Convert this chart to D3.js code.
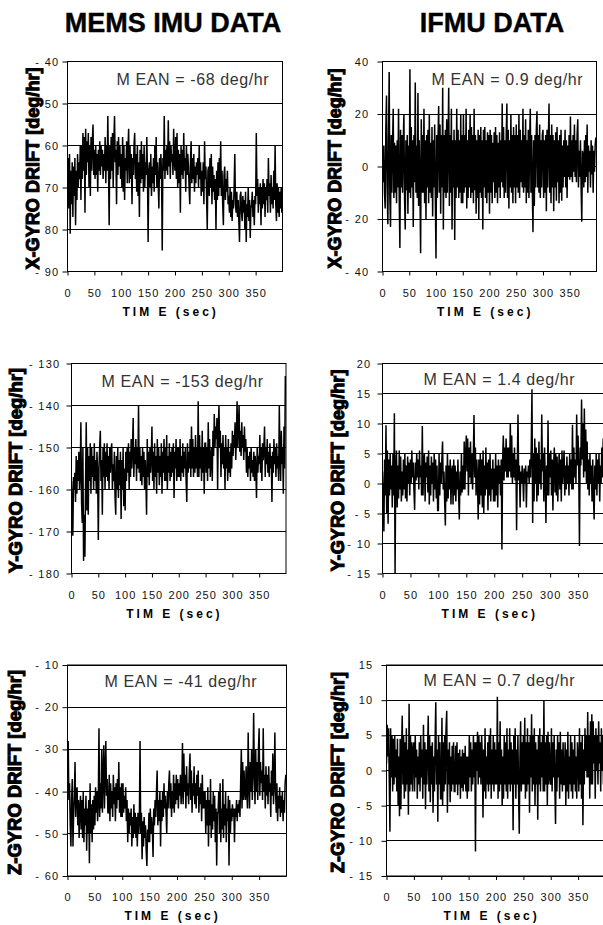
<!DOCTYPE html>
<html>
<head>
<meta charset="utf-8">
<script src="https://cdn.jsdelivr.net/npm/d3@7"></script>
<style>
body { margin: 0; background: #fff; }
svg { display: block; font-family: "Liberation Sans", Arial, sans-serif; }
</style>
</head>
<body>
<svg id="chart" width="603" height="925"></svg>
<script>
// gyro drift logs, one sample every 1.25 sec
var sampleStep = 1.25;
var timeTicks = [0, 50, 100, 150, 200, 250, 300, 350];

var columnTitles = ["MEMS IMU DATA", "IFMU DATA"];
var axisTitles = ["X-GYRO DRIFT [deg/hr]", "X-GYRO DRIFT [deg/hr]",
                  "Y-GYRO DRIFT [deg/hr]", "Y-GYRO DRIFT [deg/hr]",
                  "Z-GYRO DRIFT [deg/hr]", "Z-GYRO DRIFT [deg/hr]"];
var meanLabels = ["M EAN = -68 deg/hr", "M EAN = 0.9 deg/hr",
                  "M EAN = -153 deg/hr", "M EAN = 1.4 deg/hr",
                  "M EAN = -41 deg/hr", "M EAN = 0.7 deg/hr"];
var yDomains = [[-90, -40], [-40, 40], [-180, -130], [-15, 20], [-60, -10], [-15, 15]];
var yTickSets = [
    [-90, -80, -70, -60, -50, -40],
    [-40, -20, 0, 20, 40],
    [-180, -170, -160, -150, -140, -130],
    [-15, -10, -5, 0, 5, 10, 15, 20],
    [-60, -50, -40, -30, -20, -10],
    [-15, -10, -5, 0, 5, 10, 15]
];

var memsX = [
    -70, -63, -75, -62, -81, -66, -74, -64, -77, -65, -72, -63, -79, -66, -73, -62, -70, -64, -68, -60,
    -73, -60, -68, -57, -66, -58, -76, -56, -67, -59, -64, -57, -70, -60, -72, -58, -66, -59, -55, -67,
    -61, -68, -60, -67, -62, -71, -61, -66, -59, -67, -60, -65, -61, -68, -62, -66, -58, -69, -60, -66,
    -53, -65, -79, -60, -68, -58, -66, -57, -70, -59, -53, -64, -61, -74, -59, -67, -58, -65, -60, -68,
    -62, -70, -58, -71, -60, -73, -63, -66, -59, -69, -61, -56, -69, -60, -68, -62, -74, -63, -67, -60,
    -57, -68, -62, -71, -60, -72, -64, -77, -61, -69, -59, -68, -62, -71, -60, -70, -64, -67, -58, -66,
    -83, -66, -64, -70, -62, -72, -65, -69, -63, -71, -60, -67, -58, -70, -64, -69, -75, -63, -68, -62,
    -67, -85, -63, -66, -53, -68, -61, -66, -60, -67, -54, -65, -59, -68, -60, -64, -62, -67, -56, -64,
    -66, -58, -68, -57, -70, -61, -69, -62, -76, -60, -67, -61, -68, -57, -66, -63, -71, -60, -67, -62,
    -65, -70, -74, -64, -59, -69, -63, -68, -62, -71, -65, -69, -64, -67, -63, -70, -60, -68, -64, -72,
    -66, -71, -64, -74, -59, -68, -65, -72, -80, -66, -65, -72, -63, -70, -62, -74, -65, -71, -67, -73,
    -68, -80, -66, -73, -64, -72, -63, -70, -59, -72, -66, -74, -79, -67, -65, -73, -68, -71, -66, -74,
    -72, -76, -70, -77, -71, -78, -73, -75, -70, -62, -74, -76, -71, -77, -73, -78, -83, -72, -71, -76,
    -78, -72, -76, -73, -80, -71, -83, -74, -77, -70, -78, -73, -82, -75, -74, -71, -77, -73, -79, -72,
    -74, -57, -72, -68, -76, -70, -74, -69, -79, -70, -75, -68, -74, -69, -77, -70, -73, -68, -76, -63,
    -72, -69, -76, -67, -74, -70, -75, -66, -73, -60, -74, -78, -69, -76, -70, -77, -71, -75, -70, -76
];
var ifmuX = [
    3, -6, 8, -10, -16, 15, 27, -8, -22, 10, 36, -12, -23, 12, -10, 8, 22, -12, 9, -10,
    8, -14, 10, -8, 22, -12, -31, 14, -8, 12, -10, 9, 20, -12, -24, 10, -9, 12, -18, 8,
    -10, 37, -12, 15, -8, 10, -23, 12, -6, 32, -10, 8, -12, 28, -15, 10, -8, -33, 18, -10,
    12, -10, 22, -14, 10, -20, 12, -8, 14, -14, 20, -10, 9, -12, 15, -19, 10, -8, 16, -12,
    -35, 12, -12, 10, 23, -10, 16, -18, 12, -8, 30, -24, 12, -10, 14, -12, 18, -10, 8, 30,
    -15, 12, -10, 22, -24, 10, -8, 14, -28, 10, -12, 22, -8, 14, -12, 10, -10, 20, -14, 12,
    -14, 20, -10, 12, -8, 22, -16, 10, -12, 14, -8, 20, -12, 15, -10, 12, -14, 22, -9, 12,
    -18, 10, -12, 14, -20, 12, -10, 15, -12, 10, -24, 14, -8, 15, -12, 10, -14, 13, -10, 12,
    -18, 14, -10, 12, -14, 9, -6, 13, -12, 15, -10, 12, -14, 9, -8, 13, -12, 10, -6, 24,
    -8, 15, -12, 10, -10, 12, 24, -12, 14, -16, 10, -8, 20, -10, 12, -14, 15, -8, 12, -14,
    16, -8, 12, -10, 20, -12, 14, -6, 10, -8, 22, -10, 12, -8, 18, -14, 10, -10, 14, -12,
    10, 22, -10, 12, -8, -25, 10, -15, 12, -8, 14, 21, -8, 12, -10, 16, -12, 10, -8, 12,
    14, -12, 10, -10, 12, -17, 14, -8, 10, 24, -10, 12, -14, 16, -8, 12, -17, 10, -8, 13,
    -13, 15, -6, 10, -14, 12, -10, 14, -13, 8, -8, 10, -4, 14, -8, 10, -12, 8, -4, 12,
    -5, 19, -4, 10, -6, 12, -2, 16, -4, 10, -6, 12, 18, -8, 6, -4, 10, -8, -21, 6,
    4, -8, 10, -6, 12, -4, 16, -10, 8, -2, 6, -8, 10, -3, 8, -10, 6, -2, 8, 11
];
var memsY = [
    -158, -164, -171, -157, -160, -156, -163, -152, -161, -153, -158, -151, -160, -156, -144, -163, -168, -150, -177, -166,
    -176, -158, -144, -165, -150, -166, -152, -158, -149, -161, -150, -157, -152, -160, -149, -158, -153, -161, -151, -156,
    -172, -155, -150, -146, -158, -153, -166, -150, -157, -149, -160, -151, -157, -149, -158, -152, -160, -150, -156, -151,
    -149, -160, -154, -158, -151, -162, -166, -152, -160, -150, -162, -153, -159, -151, -167, -153, -160, -150, -164, -155,
    -165, -151, -158, -150, -156, -149, -160, -151, -157, -148, -155, -150, -143, -157, -150, -154, -148, -158, -150, -155,
    -140, -156, -150, -158, -152, -159, -150, -157, -151, -160, -153, -158, -166, -148, -157, -151, -159, -150, -156, -152,
    -145, -158, -151, -160, -149, -157, -152, -161, -148, -156, -150, -159, -152, -157, -149, -161, -151, -156, -148, -158,
    -150, -158, -147, -160, -152, -156, -149, -158, -151, -157, -150, -156, -149, -162, -151, -155, -148, -158, -150, -157,
    -150, -157, -148, -158, -152, -156, -149, -157, -151, -155, -150, -158, -163, -149, -156, -151, -155, -148, -157, -145,
    -155, -148, -157, -150, -156, -147, -155, -150, -157, -139, -157, -147, -155, -150, -158, -146, -156, -150, -161, -149,
    -149, -156, -150, -158, -144, -155, -148, -157, -153, -150, -158, -146, -152, -142, -150, -145, -148, -143, -160, -145,
    -140, -150, -146, -157, -149, -154, -147, -155, -150, -160, -147, -155, -150, -158, -148, -156, -151, -157, -149, -155,
    -146, -152, -147, -150, -144, -153, -148, -139, -150, -145, -140, -151, -146, -152, -144, -150, -147, -153, -145, -151,
    -148, -156, -150, -157, -152, -155, -151, -158, -150, -156, -153, -157, -151, -158, -152, -155, -162, -150, -156, -152,
    -154, -147, -156, -150, -158, -149, -153, -150, -145, -157, -150, -154, -148, -156, -151, -157, -149, -155, -152, -163,
    -151, -156, -148, -154, -150, -157, -149, -155, -152, -158, -140, -152, -158, -146, -154, -150, -161, -145, -155, -133
];
var ifmuY = [
    2, -3, -8, 4, -2, 9.7, -5, 5.5, -6.7, 4, -2, 5, -1, 3, -4, 5, -2, 11.7, -15, 3,
    5.5, -4, 3, -2.5, 5.5, -1, 4.5, -3, 2, -2, 4, -1, 5, -2.5, 3, -3, 4.5, 0, 3.5, -2,
    4, 0, 5.5, 1, 3.5, -1, -4.4, 3.5, 0.5, 5, 1, 4, -1, 5.5, 1, 3, -2, 9.6, -2, 4,
    5, -3, 3.5, 1, 4.5, -1.5, 5.5, -3.5, 3, -2, 4.5, 0, 3.5, -3, 5, -1, 4, -2.5, 3, -4.5,
    -4.5, 5, -2, 3.5, 0, 4, 7, -1, 2, -3, -7, 3, -3, 5, -2.5, 3, -1, 4, -3.5, 2,
    3, -3.5, 4, -2, 3, -3, 2, -1, 4, -2, -6, 2, -2, 5, -1.5, 3, -1, 7, -1, 5,
    8, 2, 7.5, -2, 6, 1, 7, 0, 5, -1, 4, 11.4, 1, 6, -2, 4, 1, -6, 4, -3.5,
    5, -2, 4, -4, 5.5, -5, 3, -2, 6, -1, 3.5, -4.5, 4, -2, 5, -3, 2.5, -1, 4, -3,
    2.5, -3, 5, -2, 3, -4, 4, 0, 3, -2, 4, -11, 4, 8, 0.5, 6, 2, 7.5, 1, 6,
    1, 6, 2, 10, 1, 8, 0, 5, 1, 6, 0.5, 4, -7.8, 3, 11.5, 0.5, 3, -4, 2, 0,
    3, 1, -3, 2.5, 0, 3, -4, 2, 1, 3, 0, 4, 1, 6, 15.7, -6.6, 5, -3, 7.5, 0,
    6, -3, 5, -2, 7, 0, 4, -1, 11.5, 2, 5, -3, 6, 1, -6.6, 3, -2, 10.5, -2, 5,
    1, 5.5, -2, 4, -4.5, 3, 6, -1.5, 5, -2, 4.5, -3, 2, 5, -1, 4, -3, 5.5, 0, 3,
    5.5, -2, 3, -1, 4.5, 0, 3, -2, 5, 0, 4, -1, 9.8, -1, 6, 1, 4, 0, 11.5, 3,
    8, 2, -10.4, 6, 3, 14, 4, 10, 1, 12.5, 2, 9, 0, 7, -1, 4, -2, 5, 0, 3,
    -3, 4, -2, -6, 3, -1, 5, -2, 4, 0, 5, -3, 3, 0, 6, 1, 7.5, 2, 5, 3
];
var memsZ = [
    -36, -28, -42, -38, -48, -53, -42, -37, -53, -45, -41, -33, -46, -40, -39, -48, -42, -51, -44, -41,
    -49, -42, -51, -40, -52, -44, -48, -41, -54, -44, -50, -42, -57, -38, -50, -43, -52, -42, -49, -41,
    -48, -39, -45, -40, -47, -42, -25, -46, -38, -44, -30, -45, -36, -29, -44, -35, -28, -41, -37, -45,
    -45, -36, -47, -38, -44, -40, -46, -36, -43, -39, -47, -38, -44, -37, -42, -33, -45, -39, -46, -38,
    -46, -38, -45, -41, -44, -39, -47, -42, -52, -44, -50, -45, -48, -44, -53, -46, -51, -43, -50, -45,
    -51, -46, -53, -45, -50, -47, -28, -50, -45, -56, -47, -53, -46, -51, -48, -54, -57.6, -49, -52, -45,
    -52, -44, -50, -46, -49, -55.5, -44, -48, -42, -46, -40, -35, -48, -42, -47, -40, -53, -42, -47, -40,
    -46, -38, -44, -41, -45, -50, -40, -44, -38, -35, -44, -38, -46, -40, -44, -36, -45, -38, -43, -36,
    -42, -37, -44, -38, -41, -36, -43, -40, -28.5, -43, -31, -40, -36, -44, -34, -41, -38, -43, -35, -31,
    -42, -35, -45, -38, -41, -34, -43, -38, -44, -36, -41, -35, -45, -39, -43, -38, -47, -36, -44, -40,
    -44, -40, -50, -42, -48, -39, -53, -42, -48, -37, -51, -43, -49, -40, -47, -41, -52, -44, -57.5, -45,
    -45, -40, -50, -38, -52, -44, -49, -37, -51, -43, -48, -40, -52, -44, -47, -41, -57.5, -42, -50, -44,
    -47, -43, -46, -44, -52, -44, -46, -42, -47, -43, -45, -42, -46, -38, -30, -44, -33, -42, -35, -40,
    -42, -34, -40, -44, -26, -38, -44, -33, -40, -30, -42, -36, -21.4, -36, -43, -30, -40, -33, -42, -30,
    -25, -41, -33, -38, -35, -42, -25, -40, -36, -44, -34, -41, -36, -43, -34, -40, -38, -46, -35, -41,
    -31, -43, -38, -26, -40, -45, -38, -47, -41, -44, -39, -46, -41, -45, -40, -47, -42, -45, -38, -36
];
var ifmuZ = [
    1, 6.5, 2, 6, -1, -8.7, 6, -1, 5, -3, 4.5, -2, 5, -1, 3, -3, 4.5, -5, 2, -6.5,
    4.5, -5.5, 3, 7.8, -2, 5, -4, 4, -3, 6, -2, 3, -6.3, 9.5, -3, 5, -2, 4, -3, 3,
    4, -3, 5, -1, 3, -4, 2, -2, 4, -3, 5, -1, 3, -4, 6.5, -2, 4, -5.5, 3, -2,
    3, 7.8, -3, 5, -4.5, 3.5, -2, 4, -6, 2, -3, 4, 9.7, -2, 3, -7.3, 5, -2, 4, -4,
    -4, 7.5, -5, 4, -3, 5, -2, 6, 8.5, -6, 3, -2, 4, -4.5, 2, -3, 3.5, -2, 4, -3,
    -3, 3.5, -2, 4, -3.5, 2.5, -2, 3, -4, 2, -2.5, 3, -3, 2.5, -2, 3.5, -3, 2, -4, 2,
    -3, 5, -1, 4, -3, 3, -2, 5, -1, 4, -11.5, 4, 0, 5.5, -2, 5, -1, 4, -2, 5,
    2, -6.7, 3, -3, 6, -4, 2, -2, 4, -3, 5, -2, 6, -4, 3, -2, 5, -3, 4, -2,
    3, -2, 10.5, -4, 4, -3, 7, -2, 3, -5, 2, -4, 5, -2, 4, -3, 6, -4, 3, -2,
    6, -3, 4, -2, 3, -8.5, 5, -2, 6, -4, 3, -2, 5, -3, -9, 2, 7, -3, 4, -2,
    5, -2, 7.5, -4, 4, -3, 6, -2, 4, -6, 5, -1, 8, -3, 5, -2, 6, -5, 4, -2,
    3, -7, 5, -2, 6, -3, 4, -1, 5, -3, 9.9, -3, 4, -2, 5, -5, 5.5, -2, 4, -1,
    -2, 6, -3, 4, -1, 5, -2, -7.6, 3, -3, 5, -1, 4, -4, 5.5, -2, 3, -3, 4, -2,
    -2, 4, -5, 3, -3, 5.5, -4, 2, -2, 5, -3, 4, -4, 3, -2, 5, -3, 2, -4, 4,
    2, -3, 6, -2, 4, -4, 5, -7.8, 3, -2, 6, 0, 5, -1, 8.3, -1, 5, -4, 7, -2,
    8, -2, 7, 1, 5, -4, 6, 0, 5, -2, 7, 1, 4, -3, 6, 0, 5, -2, 6, 3
];

var series = [memsX, ifmuX, memsY, ifmuY, memsZ, ifmuZ];

// panel boxes (px) and label placement
var panels = [
    {x: 67.5,  y: 61.5,  w: 215,   h: 210, pad: 3, titleX: 33,  titleLen: 202, meanDx: 49, meanDy: 23.5},
    {x: 382.5, y: 61.5,  w: 214,   h: 210, pad: 8, titleX: 335, titleLen: 200, meanDx: 49, meanDy: 23.5},
    {x: 71.5,  y: 363.5, w: 214.5, h: 210, pad: 6, titleX: 16,  titleLen: 205, meanDx: 30, meanDy: 23},
    {x: 382.5, y: 363.5, w: 223.5, h: 210, pad: 6, titleX: 338, titleLen: 202, meanDx: 41, meanDy: 21.5},
    {x: 67.5,  y: 665,   w: 219,   h: 211, pad: 3, titleX: 15,  titleLen: 205, meanDx: 37, meanDy: 21.5},
    {x: 386.5, y: 665,   w: 219,   h: 211, pad: 8, titleX: 338, titleLen: 201, meanDx: 37, meanDy: 21}
];

var svg = d3.select("#chart");

svg.selectAll("text.coltitle")
    .data(columnTitles)
    .enter().append("text")
    .attr("class", "coltitle")
    .attr("x", function(d, i){ return i === 0 ? 173 : 492; })
    .attr("y", 32)
    .attr("text-anchor", "middle")
    .attr("font-size", 27)
    .attr("font-weight", "bold")
    .attr("stroke", "#000")
    .attr("stroke-width", 0.4)
    .text(function(d){ return d; });

function fmtTick(d){
    return d < 0 ? "- " + Math.abs(d) : "" + d;
}

function drawPanel(p, i){
    var x = d3.scaleLinear().domain([0, 400]).range([p.x, p.x + p.w]);
    var y = d3.scaleLinear().domain(yDomains[i]).range([p.y + p.h, p.y]);
    var g = svg.append("g").attr("class", "panel");

    g.append("clipPath").attr("id", "clip" + i)
        .append("rect")
        .attr("x", p.x).attr("y", p.y)
        .attr("width", p.w).attr("height", p.h);

    // grid lines
    g.append("g").selectAll("line")
        .data(yTickSets[i])
        .enter().append("line")
        .attr("x1", p.x).attr("x2", p.x + p.w)
        .attr("y1", function(d){ return Math.round(y(d) - 0.5) + 0.5; })
        .attr("y2", function(d){ return Math.round(y(d) - 0.5) + 0.5; })
        .attr("stroke", "#000")
        .attr("stroke-width", 1);

    g.append("rect")
        .attr("x", p.x).attr("y", p.y)
        .attr("width", p.w).attr("height", p.h)
        .attr("fill", "none")
        .attr("stroke", "#000");

    var line = d3.line()
        .x(function(d, k){ return x(k * sampleStep); })
        .y(function(d){ return y(d); });

    g.append("path")
        .datum(series[i])
        .attr("clip-path", "url(#clip" + i + ")")
        .attr("d", line)
        .attr("fill", "none")
        .attr("stroke", "#000")
        .attr("stroke-width", 1.5);

    var xAxis = g.append("g")
        .attr("transform", "translate(0," + (p.y + p.h) + ")")
        .call(d3.axisBottom(x).tickValues(timeTicks).tickSize(4).tickSizeOuter(0));
    xAxis.select(".domain").remove();
    xAxis.selectAll("text")
        .attr("y", 25).attr("dy", null)
        .attr("font-size", 11)
        .attr("letter-spacing", 1)
        .attr("fill", "#111");

    var yAxis = g.append("g")
        .attr("transform", "translate(" + p.x + ",0)")
        .call(d3.axisLeft(y).tickValues(yTickSets[i]).tickSize(5).tickPadding(p.pad).tickFormat(fmtTick));
    yAxis.select(".domain").remove();
    yAxis.selectAll("text")
        .attr("font-size", 11)
        .attr("letter-spacing", 1.3)
        .attr("fill", "#111");
    xAxis.attr("font-family", null);
    yAxis.attr("font-family", null);

    g.append("text")
        .attr("x", p.x + p.w * 0.48)
        .attr("y", p.y + p.h + 44)
        .attr("text-anchor", "middle")
        .attr("font-size", 12)
        .attr("font-weight", "bold")
        .attr("letter-spacing", 3)
        .text("TIM E (sec)");

    g.append("text")
        .attr("transform", "translate(" + (p.titleX + 6) + "," + (p.y + p.h / 2 + 2) + ") rotate(-90)")
        .attr("text-anchor", "middle")
        .attr("font-size", 19)
        .attr("font-weight", "bold")
        .attr("stroke", "#000")
        .attr("stroke-width", 1.1)
        .attr("textLength", p.titleLen)
        .attr("lengthAdjust", "spacingAndGlyphs")
        .text(axisTitles[i]);

    g.append("text")
        .attr("x", p.x + p.meanDx)
        .attr("y", p.y + p.meanDy)
        .attr("font-size", 16)
        .attr("letter-spacing", 0.6)
        .attr("fill", "#333")
        .text(meanLabels[i]);
}

panels.forEach(drawPanel);
</script>
</body>
</html>
